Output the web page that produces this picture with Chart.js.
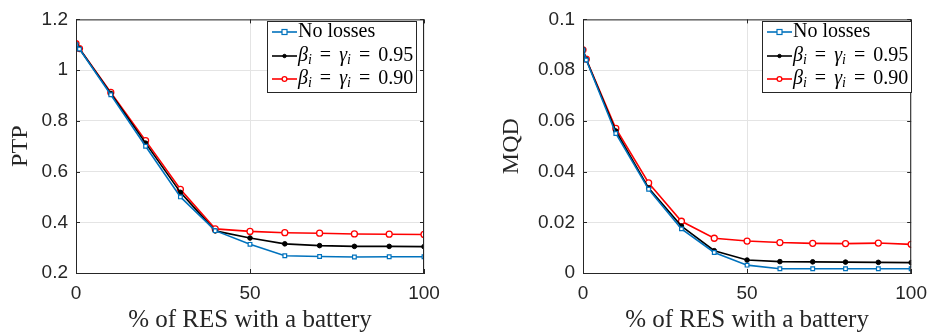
<!DOCTYPE html>
<html>
<head>
<meta charset="utf-8">
<script src="https://cdn.jsdelivr.net/npm/chart.js@4"></script>
<style>
    body { margin: 0; background: #fff; }
    .wrap { position: absolute; top: 0; width: 468px; height: 332px; }
</style>
</head>
<body>
<div class="wrap" style="left:0"><canvas id="ptpChart" width="468" height="332"></canvas></div>
<div class="wrap" style="left:468px"><canvas id="mqdChart" width="468" height="332"></canvas></div>
<script>
// % of RES with a battery
const resShare = [0, 1, 10, 20, 30, 40, 50, 60, 70, 80, 90, 100];

// PTP values
const ptpNoLoss = [1.10, 1.083, 0.903, 0.700, 0.500, 0.367, 0.313, 0.268, 0.265, 0.263, 0.264, 0.264];
const ptp95 = [1.10, 1.084, 0.908, 0.712, 0.518, 0.366, 0.338, 0.315, 0.308, 0.305, 0.305, 0.304];
const ptp90 = [1.104, 1.085, 0.912, 0.722, 0.530, 0.374, 0.364, 0.359, 0.357, 0.354, 0.353, 0.352];

// MQD values
const mqdNoLoss = [0.088, 0.084, 0.055, 0.033, 0.0174, 0.0081, 0.0031, 0.0017, 0.0017, 0.0017, 0.0017, 0.0017];
const mqd95 = [0.088, 0.0842, 0.056, 0.0335, 0.0185, 0.0088, 0.0051, 0.0045, 0.0044, 0.0043, 0.0042, 0.0041];
const mqd90 = [0.088, 0.0843, 0.057, 0.0355, 0.0204, 0.0137, 0.0126, 0.0120, 0.0117, 0.0116, 0.0118, 0.0113];

const seriesLabels = ["No losses", "0.95", "0.90"];
const axisColor = "#262626";

function makeDatasets(noLoss, d95, d90) {
    return [
        {
            label: seriesLabels[0], data: noLoss.map((v, i) => ({ x: resShare[i], y: v })),
            borderColor: "#0072BD", backgroundColor: "rgba(0,0,0,0)", borderWidth: 1.6,
            pointStyle: "rect", pointRadius: 2.6, pointBorderWidth: 1.2, pointBackgroundColor: "#fff",
        },
        {
            label: seriesLabels[1], data: d95.map((v, i) => ({ x: resShare[i], y: v })),
            borderColor: "#000", backgroundColor: "#000", borderWidth: 1.6,
            pointStyle: "circle", pointRadius: 2.3, pointBorderWidth: 1,
        },
        {
            label: seriesLabels[2], data: d90.map((v, i) => ({ x: resShare[i], y: v })),
            borderColor: "#ff0000", backgroundColor: "rgba(0,0,0,0)", borderWidth: 1.6,
            pointStyle: "circle", pointRadius: 3, pointBorderWidth: 1.3, pointBackgroundColor: "#fff",
        },
    ];
}

// box, inward ticks, axis titles and legend drawn like the matlab figure
function figurePlugin(yTitle, yTitleX, legendLeft) {
    return {
        id: "figure",
        afterDraw(chart) {
            const ctx = chart.ctx;
            const a = chart.chartArea;
            const xs = chart.scales.x, ys = chart.scales.y;
            ctx.save();
            ctx.strokeStyle = axisColor;
            ctx.lineWidth = 1;
            ctx.strokeRect(a.left + 0.5, a.top + 0.5, a.right - a.left - 1, a.bottom - a.top);
            ctx.beginPath();
            xs.ticks.forEach((t) => {
                const px = Math.round(xs.getPixelForValue(t.value)) + 0.5;
                ctx.moveTo(px, a.bottom); ctx.lineTo(px, a.bottom - 4);
                ctx.moveTo(px, a.top); ctx.lineTo(px, a.top + 4);
            });
            ys.ticks.forEach((t) => {
                const py = Math.round(ys.getPixelForValue(t.value)) + 0.5;
                ctx.moveTo(a.left, py); ctx.lineTo(a.left + 4, py);
                ctx.moveTo(a.right, py); ctx.lineTo(a.right - 4, py);
            });
            ctx.stroke();

            // axis titles
            ctx.fillStyle = axisColor;
            ctx.font = "25px 'Liberation Serif'";
            ctx.textAlign = "center";
            ctx.textBaseline = "middle";
            ctx.fillText("% of RES with a battery", (a.left + a.right) / 2, 320);
            ctx.font = "24px 'Liberation Serif'";
            ctx.save();
            ctx.translate(yTitleX, (a.top + a.bottom) / 2);
            ctx.rotate(-Math.PI / 2);
            ctx.fillText(yTitle, 0, 0);
            ctx.restore();

            // legend
            const bx = legendLeft, by = 21, bw = 149, bh = 71;
            ctx.fillStyle = "#fff";
            ctx.fillRect(bx, by, bw, bh);
            ctx.strokeStyle = axisColor;
            ctx.strokeRect(bx + 0.5, by + 0.5, bw, bh);
            const rows = [32, 56, 79];
            chart.data.datasets.forEach((ds, i) => {
                const y = rows[i];
                ctx.strokeStyle = ds.borderColor;
                ctx.lineWidth = 1.6;
                ctx.beginPath();
                ctx.moveTo(bx + 5, y); ctx.lineTo(bx + 30, y);
                ctx.stroke();
                ctx.lineWidth = ds.pointBorderWidth;
                ctx.fillStyle = ds.pointBackgroundColor || ds.backgroundColor;
                const mx = bx + 17.5;
                if (ds.pointStyle === "rect") {
                    ctx.fillRect(mx - 2.5, y - 2.5, 5, 5);
                    ctx.strokeRect(mx - 2.5, y - 2.5, 5, 5);
                } else {
                    ctx.beginPath();
                    ctx.arc(mx, y, ds.pointRadius - 0.6, 0, Math.PI * 2);
                    ctx.fill(); ctx.stroke();
                }
                ctx.fillStyle = "#000";
                ctx.textAlign = "left";
                ctx.textBaseline = "middle";
                let tx = bx + 31;
                if (i === 0) {
                    ctx.font = "20px 'Liberation Serif'";
                    ctx.fillText(ds.label, tx, y);
                    return;
                }
                const parts = [
                    ["italic 20px 'Liberation Serif'", "β", 0, 0],
                    ["italic 14px 'Liberation Serif'", "i", 4, 8],
                    ["20px 'Liberation Serif'", "=", 0, 8],
                    ["italic 20px 'Liberation Serif'", "γ", 0, 0],
                    ["italic 14px 'Liberation Serif'", "i", 4, 8],
                    ["20px 'Liberation Serif'", "=", 0, 8],
                    ["20px 'Liberation Serif'", ds.label, 0, 0],
                ];
                parts.forEach(([font, text, dy, gap]) => {
                    ctx.font = font;
                    ctx.fillText(text, tx, y + dy);
                    tx += ctx.measureText(text).width + gap;
                });
            });
            ctx.restore();
        },
    };
}

function makeOptions(yMin, yMax, yStep, yWidth, padRight) {
    return {
        responsive: false,
        animation: false,
        layout: { padding: { top: 13, right: padRight, left: 0, bottom: 0 } },
        plugins: { legend: { display: false }, tooltip: { enabled: false } },
        scales: {
            x: {
                type: "linear",
                min: 0,
                max: 100,
                ticks: { stepSize: 50, padding: 9, color: axisColor, font: { family: "Liberation Sans", size: 19 } },
                grid: { color: "#e4e4e4", drawTicks: false },
                border: { color: axisColor },
                afterFit: (scale) => { scale.height = 59; },
            },
            y: {
                min: yMin,
                max: yMax,
                ticks: {
                    stepSize: yStep, padding: 8, color: axisColor,
                    font: { family: "Liberation Sans", size: 19 },
                    callback: (v) => String(Math.round(v * 1000) / 1000),
                },
                grid: { color: "#e4e4e4", drawTicks: false },
                border: { color: axisColor },
                afterFit: (scale) => { scale.width = yWidth; },
            },
        },
    };
}

const ptpChart = new Chart(document.getElementById("ptpChart"), {
    type: "line",
    data: { datasets: makeDatasets(ptpNoLoss, ptp95, ptp90) },
    options: makeOptions(0.2, 1.2, 0.2, 76, 44),
    plugins: [figurePlugin("PTP", 21, 267)],
});

const mqdChart = new Chart(document.getElementById("mqdChart"), {
    type: "line",
    data: { datasets: makeDatasets(mqdNoLoss, mqd95, mqd90) },
    options: makeOptions(0, 0.1, 0.02, 115, 18),
    plugins: [figurePlugin("MQD", 44, 294)],
});
</script>
</body>
</html>
